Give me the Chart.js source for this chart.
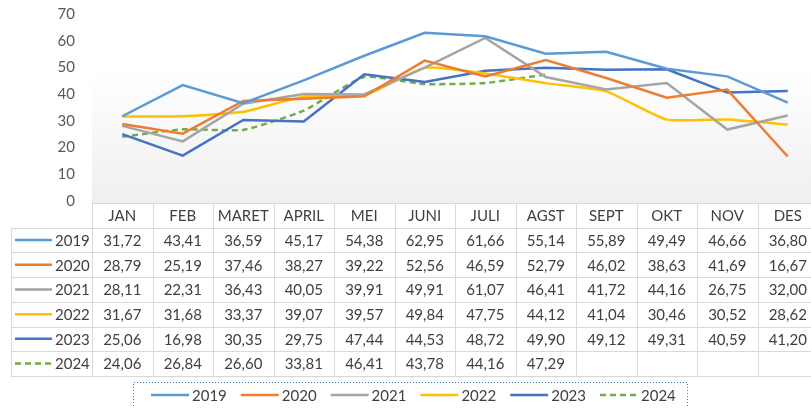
<!DOCTYPE html>
<html lang="id">
<head>
  <meta charset="UTF-8" />
  <title>Grafik Bulanan 2019-2024</title>
  <style>
    html, body { margin: 0; padding: 0; background: #fff; overflow: hidden; }
    #wrap { width: 822px; height: 408px; }
  </style>
</head>
<body>
  <div id="wrap"><canvas id="chart" width="822" height="408"></canvas></div>

  <script src="https://cdn.jsdelivr.net/npm/chart.js"></script>
  <script>
    const months = ['JAN', 'FEB', 'MARET', 'APRIL', 'MEI', 'JUNI', 'JULI', 'AGST', 'SEPT', 'OKT', 'NOV', 'DES'];
    const years = ['2019', '2020', '2021', '2022', '2023', '2024'];
    const yTicks = [0, 10, 20, 30, 40, 50, 60, 70];

    const v2019 = [31.72, 43.41, 36.59, 45.17, 54.38, 62.95, 61.66, 55.14, 55.89, 49.49, 46.66, 36.80];
    const v2020 = [28.79, 25.19, 37.46, 38.27, 39.22, 52.56, 46.59, 52.79, 46.02, 38.63, 41.69, 16.67];
    const v2021 = [28.11, 22.31, 36.43, 40.05, 39.91, 49.91, 61.07, 46.41, 41.72, 44.16, 26.75, 32.00];
    const v2022 = [31.67, 31.68, 33.37, 39.07, 39.57, 49.84, 47.75, 44.12, 41.04, 30.46, 30.52, 28.62];
    const v2023 = [25.06, 16.98, 30.35, 29.75, 47.44, 44.53, 48.72, 49.90, 49.12, 49.31, 40.59, 41.20];
    const v2024 = [24.06, 26.84, 26.60, 33.81, 46.41, 43.78, 44.16, 47.29, null, null, null, null];

    const colors = ['#5B9BD5', '#ED7D31', '#A5A5A5', '#FFC000', '#4472C4', '#70AD47'];
    const series = [v2019, v2020, v2021, v2022, v2023, v2024];

    const FONT = '15px Lato, "Open Sans", sans-serif';
    const TEXT = '#404040';
    const BORDER = '#D9D9D9';

    function fmt(v) {
      return v == null ? '' : v.toFixed(2).replace('.', ',');
    }

    function swatch(ctx, x1, x2, y, i) {
      ctx.save();
      ctx.strokeStyle = colors[i];
      ctx.lineWidth = 2.5;
      if (i === 5) ctx.setLineDash([6, 4]);
      ctx.beginPath();
      ctx.moveTo(x1, y);
      ctx.lineTo(x2, y);
      ctx.stroke();
      ctx.restore();
    }

    // soft grey gradient behind the lines, like the Excel plot area
    const plotBg = {
      id: 'plotBg',
      beforeDatasetsDraw(chart) {
        const { ctx, chartArea: a } = chart;
        const g = ctx.createLinearGradient(0, a.top, 0, a.bottom + 2);
        g.addColorStop(0, '#ffffff');
        g.addColorStop(0.3, '#ffffff');
        g.addColorStop(1, '#efefef');
        ctx.save();
        ctx.fillStyle = g;
        ctx.fillRect(a.left, a.top, a.right - a.left, a.bottom - a.top + 2);
        ctx.restore();
      }
    };

    // data table + legend under the plot
    const dataTable = {
      id: 'dataTable',
      afterDraw(chart) {
        const { ctx } = chart;
        const x = chart.scales.x;
        const colW = x.getPixelForValue(1) - x.getPixelForValue(0);
        const left = x.getPixelForValue(0) - colW / 2;
        const right = left + colW * months.length;
        const top = 203, rowH = 24.7;
        const labelLeft = 11;
        const bottom = top + rowH * (years.length + 1);

        ctx.save();
        ctx.strokeStyle = BORDER;
        ctx.lineWidth = 1;
        ctx.beginPath();
        // horizontal lines
        for (let r = 0; r <= years.length + 1; r++) {
          const y = Math.round(top + r * rowH) + 0.5;
          ctx.moveTo(r === 0 ? left : labelLeft, y);
          ctx.lineTo(right, y);
        }
        // vertical lines
        for (let c = 0; c <= months.length; c++) {
          const xx = Math.round(left + c * colW) + 0.5;
          ctx.moveTo(xx, top);
          ctx.lineTo(xx, bottom);
        }
        ctx.moveTo(labelLeft + 0.5, top + rowH);
        ctx.lineTo(labelLeft + 0.5, bottom);
        ctx.stroke();

        ctx.fillStyle = TEXT;
        ctx.font = FONT;
        ctx.textAlign = 'center';
        ctx.textBaseline = 'middle';
        months.forEach((m, c) => {
          ctx.fillText(m, x.getPixelForValue(c), top + rowH / 2 + 1);
        });
        series.forEach((vals, r) => {
          const cy = top + (r + 1.5) * rowH + 1;
          vals.forEach((v, c) => ctx.fillText(fmt(v), x.getPixelForValue(c), cy));
          swatch(ctx, 15, 52, cy - 1, r);
          ctx.textAlign = 'left';
          ctx.fillText(years[r], 55, cy);
          ctx.textAlign = 'center';
        });

        // legend
        const lx1 = 133, lx2 = 687, ly = 382;
        ctx.strokeStyle = '#4472C4';
        ctx.setLineDash([1, 2]);
        ctx.beginPath();
        ctx.moveTo(lx1 + 0.5, 412);
        ctx.lineTo(lx1 + 0.5, ly + 0.5);
        ctx.lineTo(lx2 + 0.5, ly + 0.5);
        ctx.lineTo(lx2 + 0.5, 412);
        ctx.stroke();
        ctx.setLineDash([]);
        ctx.textAlign = 'left';
        years.forEach((yr, i) => {
          const sx = 151 + i * 89.8;
          swatch(ctx, sx, sx + 38, 395, i);
          ctx.fillText(yr, sx + 41, 396);
        });
        ctx.restore();
      }
    };

    const datasets = years.map((yr, i) => ({
      label: yr,
      data: series[i],
      borderColor: colors[i],
      backgroundColor: colors[i],
      borderWidth: 2.5,
      borderDash: i === 5 ? [6, 4] : [],
      tension: (i === 3 || i === 5) ? 0.15 : 0,
      pointRadius: 0,
      spanGaps: false,
      fill: false
    }));

    new Chart(document.getElementById('chart'), {
      type: 'line',
      data: { labels: months, datasets },
      options: {
        responsive: false,
        animation: false,
        layout: { padding: { top: 14, bottom: 207, left: 0, right: 4 } },
        plugins: {
          legend: { display: false },
          tooltip: { enabled: false }
        },
        scales: {
          x: {
            display: false,
            offset: true
          },
          y: {
            min: 0,
            max: 70,
            afterBuildTicks: (s) => { s.ticks = yTicks.map(v => ({ value: v })); },
            afterFit: (s) => {
              s.width = 92;
              s.paddingTop = 0;
              s.paddingBottom = 0;
            },
            border: { display: false },
            grid: { display: false, drawTicks: false },
            ticks: {
              padding: 17,
              color: '#595959',
              font: { family: 'Lato, "Open Sans", sans-serif', size: 15 }
            }
          }
        }
      },
      plugins: [plotBg, dataTable]
    });
  </script>
</body>
</html>
